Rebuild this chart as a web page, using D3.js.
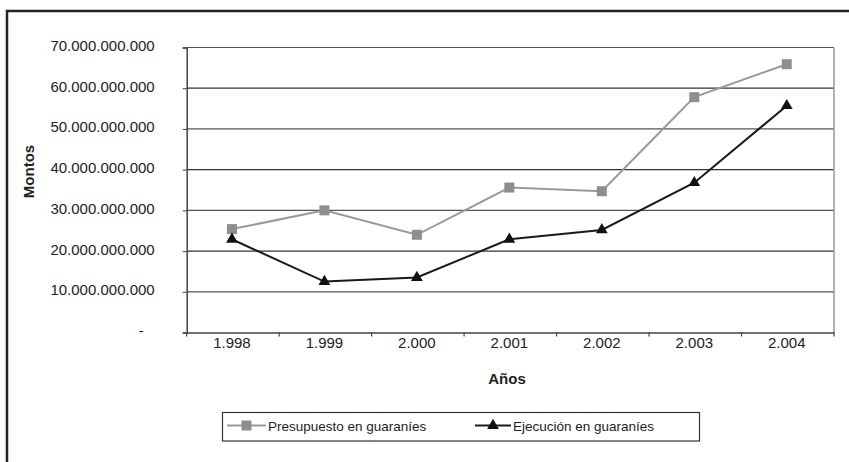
<!DOCTYPE html>
<html>
<head>
<meta charset="utf-8">
<script src="https://cdn.jsdelivr.net/npm/d3@7/dist/d3.min.js"></script>
<style>
  html, body { margin: 0; padding: 0; background: #fff; }
  svg { display: block; font-family: "Liberation Sans", Arial, sans-serif; }
</style>
</head>
<body>
<svg id="chart" width="849" height="462"></svg>
<script>
// ---- data ----
const years = [1998, 1999, 2000, 2001, 2002, 2003, 2004];
const presupuesto = [25.4e9, 30.0e9, 24.0e9, 35.6e9, 34.7e9, 57.8e9, 65.9e9];
const ejecucion   = [22.9e9, 12.5e9, 13.5e9, 22.9e9, 25.2e9, 36.8e9, 55.7e9];
const yTicks = [0, 10e9, 20e9, 30e9, 40e9, 50e9, 60e9, 70e9];
const seriesNames = ["Presupuesto en guaraníes", "Ejecución en guaraníes"];
const yTitle = "Montos";
const xTitle = "Años";

// ---- setup ----
const svg = d3.select("#chart");
const loc = d3.formatLocale({decimal: ",", thousands: ".", grouping: [3], currency: ["", ""]});
const fmtNum = loc.format(",.0f");
const yFmt = v => v === 0 ? "-" : fmtNum(v);
const xFmt = v => fmtNum(v);

const L = 186.7, R = 834, T = 47.5, B = 332.5;
const x = d3.scaleBand().domain(years).range([L, R]).padding(0);
const y = d3.scaleLinear().domain([0, 70e9]).range([B, T]);
const cx = d => x(d) + x.bandwidth() / 2 - 1;

// outer frame
svg.append("rect").attr("x", 7).attr("y", 11).attr("width", 900).attr("height", 500)
  .attr("fill", "none").attr("stroke", "#222").attr("stroke-width", 2.5);

// gridlines
svg.append("g").selectAll("line").data(yTicks.filter(v => v > 0)).join("line")
  .attr("x1", L).attr("x2", R).attr("y1", d => y(d)).attr("y2", d => y(d))
  .attr("stroke", (d, i) => (i % 2 === 0 ? "#555" : "#333")).attr("stroke-width", 1.2);

// right border of plot area
svg.append("line").attr("x1", R).attr("x2", R).attr("y1", T).attr("y2", B)
  .attr("stroke", "#999").attr("stroke-width", 1.5);

// y axis
const yAxis = svg.append("g").attr("transform", `translate(${L},0)`)
  .call(d3.axisLeft(y).tickValues(yTicks).tickFormat(yFmt).tickSize(4).tickPadding(28));
yAxis.select(".domain").attr("stroke", "#444").attr("stroke-width", 1.5);
yAxis.selectAll(".tick line").attr("stroke", "#444");
yAxis.selectAll(".tick text").attr("font-size", 15).attr("fill", "#222")
  .attr("font-family", "'Liberation Sans', Arial, sans-serif").attr("dy", "0.2em");
yAxis.selectAll(".tick text").filter(d => d === 0).attr("dx", -11);

// x axis
const xAxis = svg.append("g").attr("transform", `translate(0,${B})`)
  .call(d3.axisBottom(x).tickFormat(xFmt).tickSize(0).tickPadding(4.5));
xAxis.select(".domain").attr("stroke", "#444").attr("stroke-width", 1.5);
xAxis.selectAll(".tick text").attr("font-size", 15).attr("fill", "#222")
  .attr("font-family", "'Liberation Sans', Arial, sans-serif").attr("dx", -1);
// boundary tick marks between categories
svg.append("g").selectAll("line").data(years.concat(["end"])).join("line")
  .attr("x1", (d, i) => i < years.length ? x(d) : R)
  .attr("x2", (d, i) => i < years.length ? x(d) : R)
  .attr("y1", B).attr("y2", B + 4).attr("stroke", "#444").attr("stroke-width", 1.2);

// axis titles
svg.append("text").attr("transform", `translate(34,171.5) rotate(-90)`)
  .attr("text-anchor", "middle").attr("font-size", 15).attr("font-weight", "bold")
  .attr("fill", "#222").text(yTitle);
svg.append("text").attr("x", 507).attr("y", 384)
  .attr("text-anchor", "middle").attr("font-size", 15).attr("font-weight", "bold")
  .attr("fill", "#222").text(xTitle);

// lines
const line = d3.line().x((d, i) => cx(years[i])).y(d => y(d));
svg.append("path").datum(presupuesto).attr("d", line)
  .attr("fill", "none").attr("stroke", "#999").attr("stroke-width", 2);
svg.append("path").datum(ejecucion).attr("d", line)
  .attr("fill", "none").attr("stroke", "#1a1a1a").attr("stroke-width", 2);

// markers
const sq = 10;
svg.append("g").selectAll("rect").data(presupuesto).join("rect")
  .attr("x", (d, i) => cx(years[i]) - sq / 2).attr("y", d => y(d) - sq / 2)
  .attr("width", sq).attr("height", sq).attr("fill", "#8e8e8e");
const tri = d3.symbol().type(d3.symbolTriangle).size(60);
svg.append("g").selectAll("path").data(ejecucion).join("path")
  .attr("transform", (d, i) => `translate(${cx(years[i])},${y(d)})`)
  .attr("d", tri).attr("fill", "#111");

// legend
const lg = svg.append("g");
lg.append("rect").attr("x", 222.5).attr("y", 412.5).attr("width", 477).attr("height", 28.5)
  .attr("fill", "#fff").attr("stroke", "#333").attr("stroke-width", 1.2);
const ly = 425.5;
const items = [
  {x1: 227, x2: 266, tx: 268, color: "#999", kind: "sq"},
  {x1: 475, x2: 511, tx: 513, color: "#1a1a1a", kind: "tri"}
];
items.forEach((it, i) => {
  lg.append("line").attr("x1", it.x1).attr("x2", it.x2).attr("y1", ly).attr("y2", ly)
    .attr("stroke", it.color).attr("stroke-width", 2);
  const mx = (it.x1 + it.x2) / 2;
  if (it.kind === "sq") {
    lg.append("rect").attr("x", mx - sq / 2).attr("y", ly - sq / 2).attr("width", sq).attr("height", sq)
      .attr("fill", "#8e8e8e");
  } else {
    lg.append("path").attr("transform", `translate(${mx},${ly})`).attr("d", tri).attr("fill", "#111");
  }
  lg.append("text").attr("x", it.tx).attr("y", ly + 5).attr("font-size", 13.5)
    .attr("fill", "#222").text(seriesNames[i]);
});
</script>
</body>
</html>
